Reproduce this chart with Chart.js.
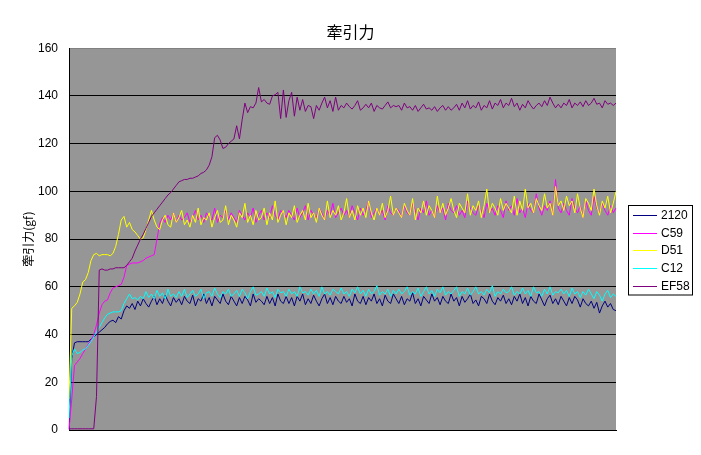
<!DOCTYPE html>
<html>
<head>
<meta charset="utf-8">
<script src="https://cdn.jsdelivr.net/npm/chart.js@4/dist/chart.umd.min.js"></script>
<style>
  html, body { margin: 0; padding: 0; background: #fff; }
</style>
</head>
<body>
<canvas id="chart" width="701" height="455"></canvas>
<script>
// series names, in legend order
const seriesNames = ['2120', 'C59', 'D51', 'C12', 'EF58'];
const seriesColors = ['#000080', '#ff00ff', '#ffff00', '#00ffff', '#800080'];

// y axis ticks
const yTicks = [0, 20, 40, 60, 80, 100, 120, 140, 160];

// traction force (gf) per sample
const s2120 = [
  0.5, 30, 36.5, 37, 37, 37, 37, 37, 38, 39, 40, 41, 42, 43, 44.5, 45.5, 46, 45, 47.5, 46.5,
  50, 52, 51, 53, 50.5, 54, 52, 55, 53, 51.5, 54, 56, 52.5, 55, 53, 56.5, 54, 52, 55.5, 53.5,
  55, 52.5, 56, 54, 53, 56.5, 52, 55, 54, 57, 53, 55.5, 52, 56, 54.5, 53, 57, 54, 52.5, 56,
  54, 52, 55.5, 53, 56, 54.5, 52, 57, 53.5, 55, 54, 52.5, 56, 53, 55.5, 52, 57, 54, 53, 56,
  53, 55.5, 52, 56, 54, 57, 52.5, 55, 53, 56.5, 54, 52, 55, 57, 53, 55.5, 52.5, 56, 54, 53,
  56, 53.5, 55, 52, 57, 54, 53, 56, 52.5, 55.5, 54, 57, 53, 55, 52, 56.5, 54, 53, 57, 55,
  53, 56, 52.5, 55, 54, 57.5, 53, 55, 52, 56, 54.5, 53, 57, 54, 55.5, 52.5, 56, 54, 53, 57,
  54, 55.5, 52, 56, 53.5, 55, 57, 53, 54.5, 52, 56, 55, 53, 57, 54, 52.5, 55.5, 54, 56.5, 53,
  55, 52.5, 56, 54, 57, 53, 55.5, 52, 56, 54, 53, 57, 54.5, 52, 55, 56.5, 53, 55, 52.5, 56,
  54, 52, 55.5, 53, 56, 54.5, 51.5, 55, 53, 52, 54, 51, 53.5, 49, 52, 54, 51.5, 53, 50.5, 50
];
const sC59 = [
  0, 13, 27, 28.5, 30, 32, 34, 36, 37.5, 40, 44, 49, 52.5, 54, 54.5, 57.5, 59.5, 60, 60.5, 61,
  64, 69, 69.5, 70, 70, 70, 70.5, 71, 72, 72.5, 73, 73.5, 80, 86.5, 89, 87, 90, 88, 91, 87,
  90, 88, 89, 91, 87, 89, 92, 88, 90, 87, 91, 89, 88, 93, 87, 90, 89, 92, 88, 91,
  89, 87, 92, 90, 88, 91, 89, 93, 87, 90, 92, 88, 91, 89, 94, 90, 88, 92, 91, 89,
  92, 90, 88, 93, 89, 91, 94, 88, 92, 90, 89, 93, 91, 88, 92, 90, 95, 89, 91, 93,
  90, 92, 89, 94, 91, 88, 93, 90, 92, 96, 89, 91, 93, 90, 92, 88, 94, 91, 90, 93,
  92, 89, 94, 91, 90, 95, 92, 88, 93, 91, 96, 90, 92, 89, 94, 91, 93, 88, 95, 92,
  91, 94, 90, 92, 89, 96, 93, 91, 90, 94, 92, 89, 95, 91, 93, 90, 94, 92, 89, 96,
  92, 94, 90, 97, 91, 93, 89, 95, 92, 91, 99, 93, 90, 94, 92, 96, 90, 105, 93, 91,
  95, 92, 90, 97, 93, 91, 94, 89, 96, 92, 90, 98, 93, 91, 95, 92, 90, 94, 91, 93
];
const sD51 = [
  13, 51, 52, 53.5, 57, 62, 63, 66, 71, 73.5, 74, 73, 73.5, 73.5, 73.5, 73, 74, 77, 82, 88,
  89.5, 85, 87, 84, 83, 81.5, 80, 80.5, 84, 88, 92, 88, 85, 84, 88, 90, 86, 85, 91, 87,
  89, 92, 86, 88, 85, 90, 87, 93, 86, 89, 88, 91, 85, 89, 92, 87, 88, 94, 86, 90,
  88, 85, 91, 89, 95, 87, 90, 86, 92, 88, 89, 93, 86, 91, 88, 96, 87, 90, 92, 86,
  91, 89, 94, 87, 90, 92, 88, 95, 89, 91, 87, 93, 90, 88, 96, 89, 92, 90, 94, 88,
  91, 97, 89, 92, 88, 94, 90, 93, 89, 96, 91, 88, 93, 90, 95, 89, 92, 98, 90, 93,
  91, 89, 95, 92, 90, 97, 88, 93, 91, 96, 90, 94, 92, 89, 98, 91, 95, 90, 93, 97,
  92, 89, 95, 93, 91, 99, 90, 94, 92, 96, 89, 94, 101, 91, 95, 93, 90, 97, 92, 95,
  93, 91, 98, 90, 96, 92, 101, 93, 95, 91, 97, 94, 92, 99, 93, 95, 90, 102, 94, 96,
  92, 98, 94, 96, 91, 99, 93, 89, 97, 95, 92, 101, 94, 90, 96, 93, 98, 91, 95, 100
];
const sC12 = [
  5, 31, 34, 32, 32.5, 33.5, 34, 35.5, 37, 39, 41, 43, 45, 47, 48.5, 49, 49.5, 49.5, 49.5, 50,
  53, 55, 57, 55, 55.5, 54.5, 56, 55, 58, 55.5, 57, 55, 58.5, 56, 57.5, 55, 59, 56, 57, 55.5,
  58, 56, 59, 55.5, 57, 58.5, 56, 57, 59, 55, 57.5, 58, 56, 59.5, 57, 55.5, 58, 57, 59, 56,
  57, 58.5, 56, 59, 57.5, 55, 58, 60, 56.5, 57, 58, 56, 59.5, 57, 58, 55.5, 59, 57.5, 58, 56,
  59, 57, 58, 56, 60, 57.5, 58, 56.5, 59, 57, 58.5, 56, 60, 57, 58, 56.5, 59, 58, 57, 59.5,
  57, 58, 56, 59, 57.5, 60, 57, 58.5, 56, 59, 57, 58, 60.5, 56.5, 58, 57, 59, 56, 58.5, 57,
  59, 57, 58, 60, 56.5, 58, 57, 59.5, 56, 58, 60, 57, 58.5, 56, 59, 57.5, 60, 56.5, 58, 57,
  58.5, 60, 56, 58, 57, 59.5, 56.5, 58, 60, 57, 58, 56.5, 59, 57.5, 60.5, 56, 58, 57, 59, 57.5,
  58, 60, 56.5, 58, 57, 59.5, 57, 58.5, 56, 60, 57.5, 58, 56, 59, 57, 60, 56.5, 58, 57.5, 59,
  57, 58.5, 56, 59.5, 57, 58, 55.5, 58, 56.5, 59, 57, 55, 58, 56.5, 54, 57, 58.5, 55.5, 57, 56
];
const sEF58 = [
  0.5, 0.5, 0.5, 0.5, 0.5, 0.5, 0.5, 0.5, 0.5, 0.5, 14, 67, 67.5, 67, 67, 67.5, 67.5, 68, 68, 68,
  68, 69, 70.5, 72, 75, 77.5, 80, 82, 84.5, 87, 89.5, 91, 92.5, 94, 95.5, 97, 98.5, 99.5, 101, 102.5,
  104, 104.5, 105, 105, 105.5, 105.5, 106, 106.5, 107.5, 108, 109, 111, 114.5, 122.5, 123.5, 121.5, 118, 118.5, 120, 121,
  122, 127.5, 122, 130, 137, 133, 135.5, 135, 137, 143.5, 137.5, 138.5, 137, 136.5, 140, 140.5, 141.5, 130.5, 142.5, 131,
  138, 141.5, 131.5, 139.5, 134, 138.5, 133.5, 136, 135.5, 130.5, 136, 134, 137, 139.5, 135, 138, 133.5, 139.5, 134, 136,
  135, 137, 135.5, 134.5, 136, 138, 134, 135, 136.5, 135, 137, 133.5, 136, 135, 134.5, 136, 137.5, 135, 136, 135.5,
  136, 134, 137, 135, 135.5, 134, 136, 133.5, 135, 136.5, 134.5, 135, 134, 135.5, 133.5, 135, 136, 134, 135.5, 134,
  135, 136.5, 134, 137, 135, 138, 134.5, 136, 135, 137.5, 134, 136, 135, 138, 134.5, 137, 136, 138.5, 135, 137,
  136, 139, 135.5, 137, 134, 136.5, 135, 138, 136, 134.5, 136, 137, 135.5, 138, 136, 139.5, 137, 135, 136.5, 135,
  137, 136, 138.5, 135, 137, 136, 137.5, 135.5, 138, 136, 137, 139, 136.5, 137, 135, 138, 136.5, 137, 136, 137
];

const seriesValues = [s2120, sC59, sD51, sC12, sEF58];
// sample numbers along the (unlabelled) x axis
const samples = s2120.map((_, i) => i + 1);

const plotColor = '#969696';
const fontFamily = '"Liberation Sans", Arial, sans-serif';
const cjkFamily = '"Noto Sans CJK JP", "Liberation Sans", sans-serif';

// gray plot area, like the spreadsheet default
const plotBackground = {
  id: 'plotBackground',
  beforeDraw: (chart) => {
    const {ctx, chartArea} = chart;
    ctx.save();
    ctx.fillStyle = plotColor;
    ctx.fillRect(chartArea.left, chartArea.top, chartArea.right - chartArea.left, chartArea.bottom - chartArea.top);
    ctx.restore();
  }
};

// boxed legend to the right of the plot
const boxLegend = {
  id: 'boxLegend',
  afterDraw: (chart) => {
    const ctx = chart.ctx;
    const left = chart.chartArea.right + 12;
    const top = 205;
    const rowHeight = 17.7;
    const width = 64;
    const height = rowHeight * chart.data.datasets.length + 1;
    ctx.save();
    ctx.fillStyle = '#fff';
    ctx.fillRect(left, top, width, height);
    ctx.strokeStyle = '#000';
    ctx.lineWidth = 1;
    ctx.strokeRect(left + 0.5, top + 0.5, width, height);
    ctx.font = '12px ' + fontFamily;
    ctx.textBaseline = 'middle';
    chart.data.datasets.forEach((ds, i) => {
      const y = Math.round(top + 10 + i * rowHeight) + 0.5;
      ctx.strokeStyle = ds.borderColor;
      ctx.beginPath();
      ctx.moveTo(left + 5, y);
      ctx.lineTo(left + 29, y);
      ctx.stroke();
      ctx.fillStyle = '#000';
      ctx.fillText(ds.label, left + 33, y);
    });
    ctx.restore();
  }
};

new Chart(document.getElementById('chart'), {
  type: 'line',
  data: {
    labels: samples,
    datasets: seriesNames.map((name, i) => ({
      label: name,
      data: seriesValues[i],
      borderColor: seriesColors[i],
      backgroundColor: seriesColors[i],
      borderWidth: 1,
      pointRadius: 0,
      tension: 0,
      fill: false,
      // later series drawn on top
      order: seriesNames.length - i
    }))
  },
  options: {
    responsive: false,
    animation: false,
    layout: {
      padding: 0
    },
    plugins: {
      legend: {display: false},
      tooltip: {enabled: false},
      title: {
        display: true,
        text: '牽引力',
        color: '#000',
        font: {family: cjkFamily, size: 16, weight: 'normal'},
        padding: {top: 22, bottom: 7}
      }
    },
    scales: {
      x: {
        type: 'category',
        offset: false,
        afterFit: (scale) => { scale.height = 25; },
        ticks: {display: false},
        grid: {display: false, drawTicks: false},
        border: {display: true, color: '#000', width: 1}
      },
      y: {
        min: 0,
        max: 160,
        afterFit: (scale) => { scale.width = 69; },
        afterBuildTicks: (scale) => {
          scale.ticks = yTicks.map(v => ({value: v}));
        },
        ticks: {
          color: '#000',
          padding: 11,
          font: {family: fontFamily, size: 12}
        },
        grid: {
          drawTicks: false,
          lineWidth: 1,
          color: (c) => (c.tick && c.tick.value === 160 ? '#808080' : '#000')
        },
        border: {display: true, color: '#000', width: 1},
        title: {
          display: true,
          text: '牽引力(gf)',
          color: '#000',
          font: {family: cjkFamily, size: 12},
          padding: {top: 21, bottom: 0}
        }
      },
      // empty axis that only keeps room for the legend on the right
      legendRoom: {
        type: 'linear',
        position: 'right',
        afterFit: (scale) => { scale.width = 85; },
        ticks: {display: false},
        grid: {display: false, drawTicks: false},
        border: {display: false}
      }
    }
  },
  plugins: [plotBackground, boxLegend]
});
</script>
</body>
</html>
